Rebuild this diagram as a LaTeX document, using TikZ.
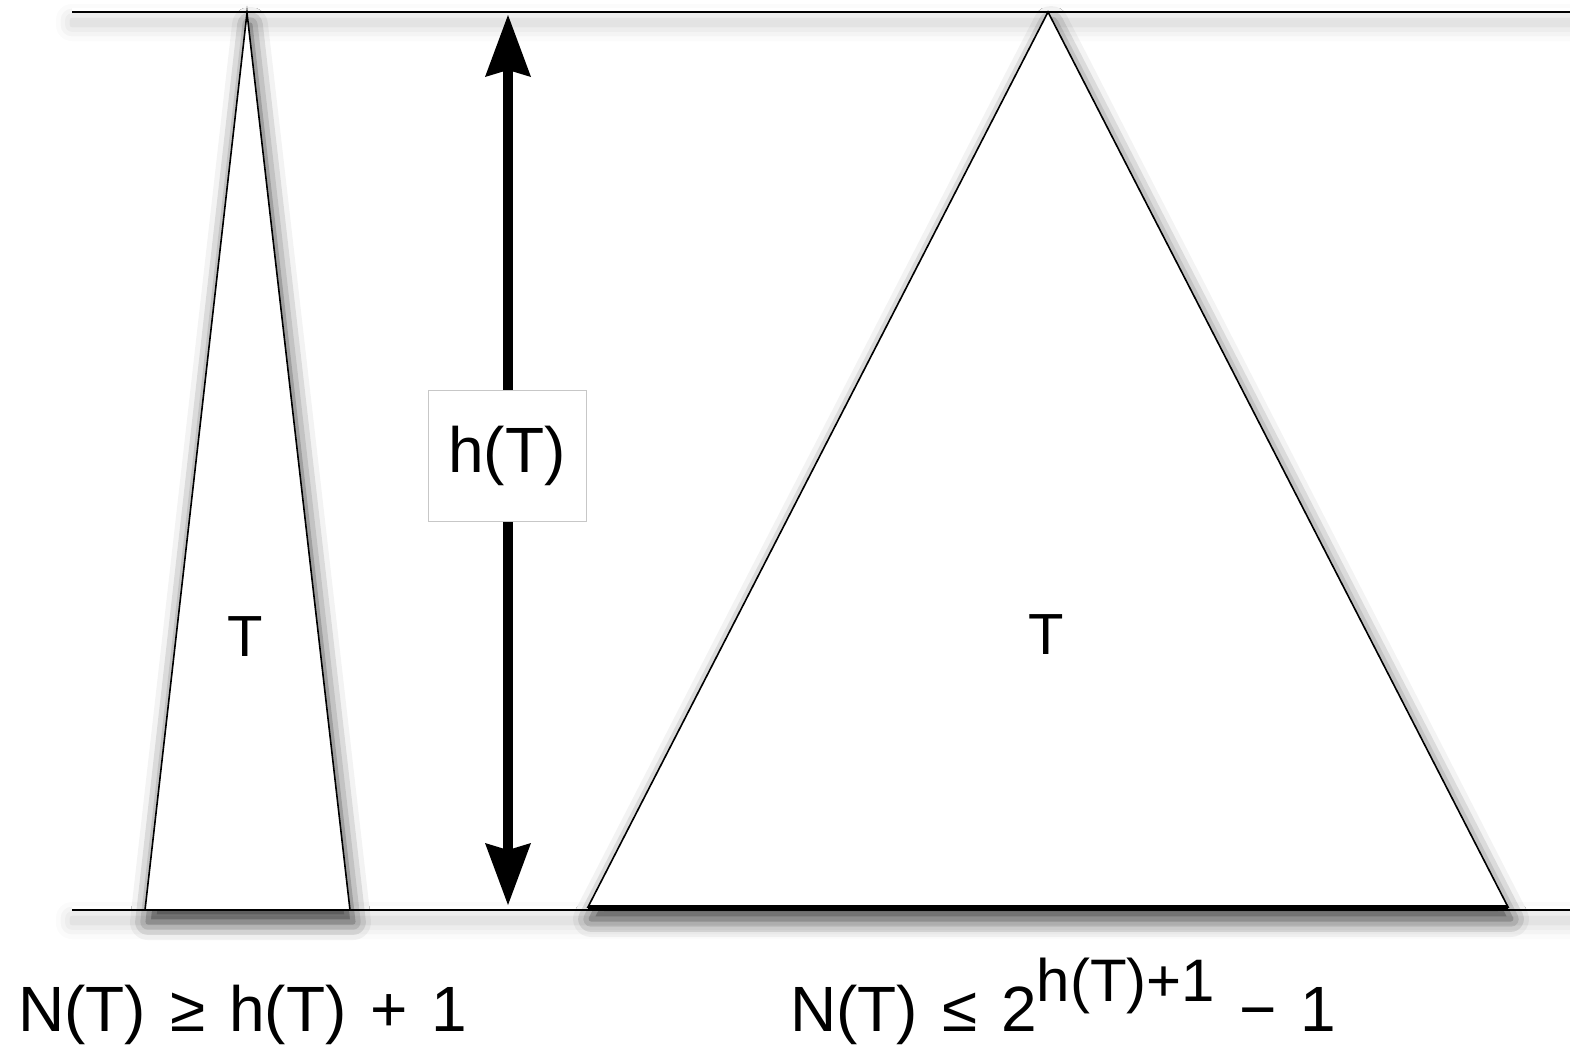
\documentclass[tikz,border=0pt]{standalone}
\usepackage{fontspec}
\setmainfont{Liberation Sans}
\usetikzlibrary{arrows.meta,shadows.blur}
\newcommand{\gsp}{\hspace{24pt}}
\begin{document}
\begin{tikzpicture}[x=1pt,y=-1pt,
  lineshad/.style={fill=white,draw=none,blur shadow={shadow xshift=0pt,shadow yshift=-12pt,shadow blur radius=16pt,shadow opacity=22}},
  trishad/.style={fill=white,draw=black,line width=1.6pt,line join=miter,
     blur shadow={shadow xshift=3pt,shadow yshift=-12pt,shadow blur radius=18pt,shadow opacity=75}},
  rule/.style={draw=black,line width=2pt},
  big/.style={font=\fontsize{64}{68}\selectfont,inner sep=0pt},
  tlabel/.style={font=\fontsize{58}{62}\selectfont,inner sep=0pt},
  hbox/.style={draw=black!22,line width=1pt,fill=white,minimum width=158pt,minimum height=131pt,font=\fontsize{64}{68}\selectfont,inner sep=0pt},
  shaft/.style={line width=10pt},
  head/.style={fill=black}
]
\useasboundingbox (0,0) rectangle (1570,1045);
% line shadows
\path[lineshad] (72,8) rectangle (1570,13);
\path[lineshad] (72,906) rectangle (1570,911);
% triangles
\coordinate (LA) at (247,13);
\coordinate (LL) at (145,910);
\coordinate (LR) at (350,910);
\coordinate (RA) at (1048,12);
\coordinate (RL) at (588,907);
\coordinate (RR) at (1508,907);
\path[trishad] (LA) -- (LR) -- (LL) -- cycle;
\path[trishad] (RA) -- (RR) -- (RL) -- cycle;
% horizontal rules
\coordinate (TL) at (72,12);
\coordinate (TR) at (1570,12);
\coordinate (BL) at (72,910);
\coordinate (BR) at (1570,910);
\draw[rule] (TL) -- (TR);
\draw[rule] (BL) -- (BR);
\draw[line width=5pt] (RL) -- (RR);
% labels in triangles
\node[tlabel] (t1) at (245,637) {T};
\node[tlabel] (t2) at (1046,635) {T};
% height arrow
\coordinate (AT) at (508,15);
\coordinate (AB) at (508,905);
\draw[shaft] ([yshift=-50pt]AT) -- ([yshift=50pt]AB);
\fill[head] (AT) -- ++(23,62) -- ++(-23,-7) -- ++(-23,7) -- cycle;
\fill[head] (AB) -- ++(23,-62) -- ++(-23,7) -- ++(-23,-7) -- cycle;
\node[hbox] (hT) at (507,455.5) {h(T)};
% bottom formulas
\node[big,anchor=base west] (f1) at (18,1031) {N(T)\gsp≥\gsp h(T)\gsp+\gsp1};
\node[big,anchor=base west] (f2) at (790,1031) {N(T)\gsp≤\gsp2\raisebox{30pt}{\fontsize{60}{64}\selectfont h(T)+1}\gsp−\gsp1};
\end{tikzpicture}
\end{document}
